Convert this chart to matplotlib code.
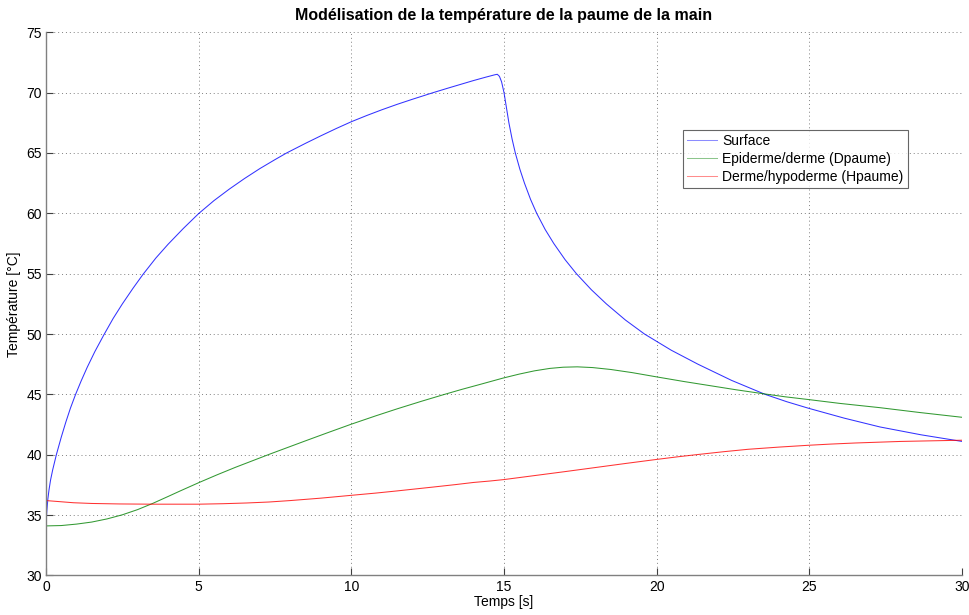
"""
Modélisation de la température de la paume de la main (style MATLAB).
"""

import matplotlib
matplotlib.use("Agg")
import matplotlib.pyplot as plt

plt.rcParams["font.family"] = ["Liberation Sans", "DejaVu Sans"]

# Surface
t_surface = [0, 0.01, 0.03, 0.06, 0.1, 0.15, 0.22, 0.34, 0.5, 0.65, 0.8,
             0.97, 1.15, 1.35, 1.6, 1.9, 2.2, 2.5, 2.85, 3.18, 3.6, 4.0, 4.5,
             5.0, 5.5, 6.0, 6.5, 7.0, 7.5, 7.88, 8.5, 9.0, 9.5, 10.0, 10.5,
             11.0, 11.5, 12.0, 12.68, 13.2, 13.6, 14.0, 14.4, 14.7, 14.78,
             14.85, 14.92, 15.0, 15.16, 15.265, 15.37, 15.52, 15.67, 15.87,
             16.07, 16.35, 16.63, 17.0, 17.37, 17.86, 18.35, 18.975, 19.6,
             20.475, 21.35, 22.45, 23.55, 24.26, 24.97, 26.14, 27.31, 28.655,
             30.0]
T_surface = [33.8, 34.6, 35.4, 36.3, 37.1, 37.9, 38.75, 40.0, 41.45, 42.7,
             43.85, 45.0, 46.1, 47.24, 48.54, 49.95, 51.29, 52.49, 53.79, 54.95,
             56.3, 57.44, 58.75, 59.98, 61.05, 62.0, 62.88, 63.7, 64.45, 65.0,
             65.8, 66.42, 67.02, 67.59, 68.1, 68.58, 69.03, 69.45, 70.0, 70.4,
             70.7, 71.0, 71.28, 71.48, 71.52, 71.35, 70.9, 70.0, 67.5, 66.15,
             65.0, 63.65, 62.5, 61.15, 60.0, 58.65, 57.5, 56.16, 55.0, 53.67,
             52.5, 51.16, 50.0, 48.66, 47.5, 46.16, 45.0, 44.39, 43.85, 43.03,
             42.3, 41.65, 41.1]

# Epiderme/derme (Dpaume)
t_dpaume = [0, 0.5, 1.0, 1.5, 2.0, 2.5, 3.0, 3.5, 4.0, 4.38, 5.0, 5.6, 6.2,
            7.33, 8.5, 9.2, 10.0, 10.8, 11.5, 12.3, 13.0, 13.6, 14.21, 14.97,
            15.5, 16.0, 16.5, 16.94, 17.4, 17.9, 18.5, 19.2, 19.97, 20.9,
            21.85, 22.6, 23.44, 24.2, 24.97, 26.0, 27.3, 28.6, 30.0]
T_dpaume = [34.1, 34.13, 34.25, 34.42, 34.68, 35.02, 35.45, 35.97, 36.54,
            36.98, 37.68, 38.33, 38.95, 40.05, 41.15, 41.8, 42.53, 43.22, 43.8,
            44.43, 44.96, 45.4, 45.82, 46.35, 46.68, 46.95, 47.15, 47.25,
            47.28, 47.22, 47.06, 46.8, 46.46, 46.06, 45.68, 45.38, 45.07, 44.8,
            44.57, 44.25, 43.9, 43.5, 43.1]

# Derme/hypoderme (Hpaume)
t_hpaume = [0, 0.4, 0.9, 1.5, 2.4, 3.5, 5.0, 5.8, 6.57, 7.3, 8.0, 9.0, 9.98,
            10.8, 11.5, 12.68, 13.4, 14.0, 14.54, 15.0, 16.0, 17.0, 18.0, 19.0,
            19.97, 20.7, 21.4, 22.2, 23.0, 24.0, 24.96, 25.7, 26.5, 27.3, 28.0,
            29.0, 30.0]
T_hpaume = [36.2, 36.12, 36.02, 35.96, 35.92, 35.9, 35.9, 35.94, 36.0, 36.08,
            36.2, 36.4, 36.63, 36.82, 37.0, 37.32, 37.52, 37.7, 37.82, 37.94,
            38.27, 38.6, 38.94, 39.28, 39.6, 39.83, 40.03, 40.25, 40.45, 40.63,
            40.78, 40.88, 40.97, 41.04, 41.1, 41.15, 41.2]

x_ticks = [0, 5, 10, 15, 20, 25, 30]
y_ticks = [30, 35, 40, 45, 50, 55, 60, 65, 70, 75]


def main():
    fig = plt.figure(figsize=(9.7, 6.15), dpi=100)
    ax = fig.add_axes([0.0474, 0.0644, 0.9444, 0.8831])

    ax.plot(t_surface, T_surface, color="#0000ff", lw=0.75, alpha=0.8,
            label="Surface")
    ax.plot(t_dpaume, T_dpaume, color="#008000", lw=0.75, alpha=0.8,
            label="Epiderme/derme (Dpaume)")
    ax.plot(t_hpaume, T_hpaume, color="#ff0000", lw=0.75, alpha=0.8,
            label="Derme/hypoderme (Hpaume)")

    ax.set_xlim(0, 30)
    ax.set_ylim(30, 75)
    ax.set_xticks(x_ticks)
    ax.set_yticks(y_ticks)
    ax.tick_params(direction="in", length=5, width=0.8, color="#404040",
                   labelsize=10, pad=3)
    ax.grid(True, linestyle=(0, (1, 3)), color="#808080", linewidth=0.7)
    for side in ["top", "right"]:
        ax.spines[side].set_visible(False)
    for side in ["left", "bottom"]:
        ax.spines[side].set_color("#808080")
        ax.spines[side].set_linewidth(1.0)

    ax.set_title("Modélisation de la température de la paume de la main",
                 fontsize=11.5, fontweight="bold", pad=9)
    ax.set_xlabel("Temps [s]", fontsize=10, labelpad=1)
    ax.set_ylabel("Température [°C]", fontsize=10, labelpad=4)

    leg = ax.legend(loc="upper left", bbox_to_anchor=(0.695, 0.82),
                    fontsize=10, frameon=True, fancybox=False,
                    handlelength=2.2, handletextpad=0.35, labelspacing=0.28,
                    borderpad=0.3, borderaxespad=0)
    leg.get_frame().set_edgecolor("#404040")
    leg.get_frame().set_linewidth(0.8)
    for line in leg.get_lines():
        line.set_alpha(0.45)

    plt.savefig("out.png", dpi=100)


if __name__ == "__main__":
    main()
